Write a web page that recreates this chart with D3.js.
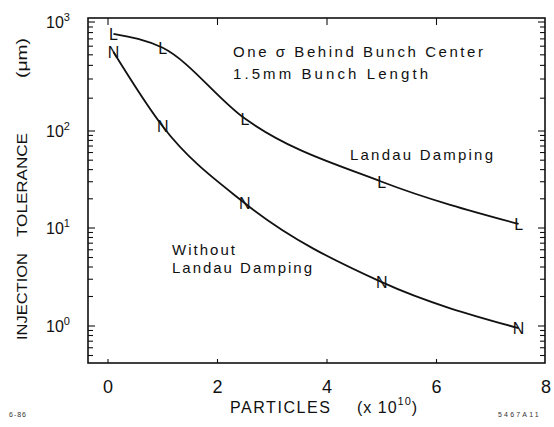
<!DOCTYPE html>
<html>
<head>
<meta charset="utf-8">
<script src="https://cdn.jsdelivr.net/npm/d3@7"></script>
<style>
  html, body { margin: 0; padding: 0; background: #fff; }
  svg { display: block; font-family: "Liberation Sans", Arial, sans-serif; }
</style>
</head>
<body>
<svg id="chart" width="554" height="427"></svg>
<script>
// Injection tolerance vs. bunch population, with and without Landau damping
const particles      = [0.1, 1, 2.5, 5, 7.5];      // ×10^10
const landauDamping  = [780, 580, 130, 30, 11];     // µm
const withoutLandau  = [530, 110, 18, 2.8, 0.95];   // µm
const xTicks         = [0, 2, 4, 6, 8];
const yExponents     = [0, 1, 2, 3];
const minorFactors   = [2, 3, 4, 5, 6, 7, 8, 9];

const ink = "#111";
const svg = d3.select("#chart");

const frame = { left: 88, right: 545, top: 18, bottom: 363 };

const x = d3.scaleLinear().domain([0, 8]).range([108, 546]);
// log axis with uneven decade spacing (piecewise per decade)
const y = d3.scaleLog()
  .domain([1, 10, 100, 1000])
  .range([326, 228, 131, 22]);

// frame
svg.append("rect")
  .attr("x", frame.left).attr("y", frame.top)
  .attr("width", frame.right - frame.left)
  .attr("height", frame.bottom - frame.top)
  .attr("fill", "none").attr("stroke", ink).attr("stroke-width", 1.6);

// y ticks (inward on both sides)
const yTickVals = [];
for (let k = -1; k <= 3; k++) {
  [1, ...minorFactors].forEach(m => {
    const v = m * Math.pow(10, k);
    const py = y(v);
    if (py >= frame.top + 1 && py <= frame.bottom - 1) yTickVals.push({ v, major: m === 1 });
  });
}
const tg = svg.append("g").attr("stroke", ink).attr("stroke-width", 1.1);
tg.selectAll(".yl").data(yTickVals).join("line")
  .attr("x1", frame.left).attr("x2", d => frame.left + (d.major ? 7 : 5))
  .attr("y1", d => y(d.v)).attr("y2", d => y(d.v));
tg.selectAll(".yr").data(yTickVals).join("line")
  .attr("x1", frame.right).attr("x2", d => frame.right - (d.major ? 7 : 5))
  .attr("y1", d => y(d.v)).attr("y2", d => y(d.v));

// x ticks (top longer, bottom short)
const innerX = xTicks.filter(t => x(t) < frame.right - 2);
tg.selectAll(".xt").data(innerX).join("line")
  .attr("x1", d => x(d)).attr("x2", d => x(d))
  .attr("y1", frame.top).attr("y2", frame.top + 7);
tg.selectAll(".xb").data(innerX).join("line")
  .attr("x1", d => x(d)).attr("x2", d => x(d))
  .attr("y1", frame.bottom).attr("y2", frame.bottom - 4);

// x tick labels
svg.append("g").selectAll("text").data(xTicks).join("text")
  .attr("x", d => x(d)).attr("y", 393)
  .attr("text-anchor", "middle")
  .attr("font-size", 18).attr("fill", ink)
  .text(d => d);

// y tick labels: 10^n
const yl = svg.append("g").selectAll("text").data(yExponents).join("text")
  .attr("x", 46).attr("y", d => y(Math.pow(10, d)) + 6)
  .attr("font-size", 16).attr("fill", ink);
yl.append("tspan").text("10");
yl.append("tspan").attr("dy", -7).attr("font-size", 11).text(d => d);

// axis titles
const yTitle = svg.append("g").attr("transform", "rotate(-90)")
  .attr("font-size", 15).attr("fill", ink);
[["INJECTION", 340, 87], ["TOLERANCE", 237, 104], ["(\u03bcm)", 78, 40]].forEach(([t, pos, len]) => {
  yTitle.append("text").attr("x", -pos).attr("y", 27)
    .attr("textLength", len).attr("lengthAdjust", "spacingAndGlyphs").text(t);
});

svg.append("text").attr("x", 230).attr("y", 413)
  .attr("font-size", 16).attr("fill", ink)
  .attr("textLength", 100).attr("lengthAdjust", "spacing")
  .text("PARTICLES");
const xt2 = svg.append("text").attr("x", 357).attr("y", 413)
  .attr("font-size", 16).attr("fill", ink).attr("letter-spacing", 1);
xt2.append("tspan").text("(x 10");
xt2.append("tspan").attr("dy", -8).attr("font-size", 11).text("10");
xt2.append("tspan").attr("dy", 8).text(")");

// curves
const line = d3.line()
  .x(d => x(d[0])).y(d => y(d[1]))
  .curve(d3.curveMonotoneX);
const series = [
  { values: landauDamping, mark: "L" },
  { values: withoutLandau, mark: "N" }
];
series.forEach(s => {
  const pts = particles.map((p, i) => [p, s.values[i]]);
  svg.append("path").datum(pts)
    .attr("d", line)
    .attr("fill", "none").attr("stroke", ink).attr("stroke-width", 1.8);
  svg.append("g").selectAll("text").data(pts).join("text")
    .attr("x", d => x(d[0])).attr("y", d => y(d[1]) + 6)
    .attr("text-anchor", "middle")
    .attr("font-size", 16).attr("fill", ink)
    .text(s.mark);
});

// annotations
const notes = [
  { t: "One \u03c3 Behind Bunch Center", x: 233, y: 57, w: 250 },
  { t: "1.5mm Bunch Length", x: 233, y: 79, w: 195 },
  { t: "Landau Damping", x: 350, y: 160, w: 143 },
  { t: "Without", x: 172, y: 255, w: 63 },
  { t: "Landau Damping", x: 172, y: 273, w: 140 }
];
svg.append("g").selectAll("text").data(notes).join("text")
  .attr("x", d => d.x).attr("y", d => d.y)
  .attr("font-size", 15).attr("fill", ink)
  .attr("textLength", d => d.w).attr("lengthAdjust", "spacing")
  .text(d => d.t);

// figure ids
svg.append("text").attr("x", 9).attr("y", 417)
  .attr("font-size", 7).attr("fill", "#333").attr("letter-spacing", 1).text("6-86");
svg.append("text").attr("x", 498).attr("y", 417)
  .attr("font-size", 7).attr("fill", "#333").attr("letter-spacing", 2.2).text("5467A11");
</script>
</body>
</html>
